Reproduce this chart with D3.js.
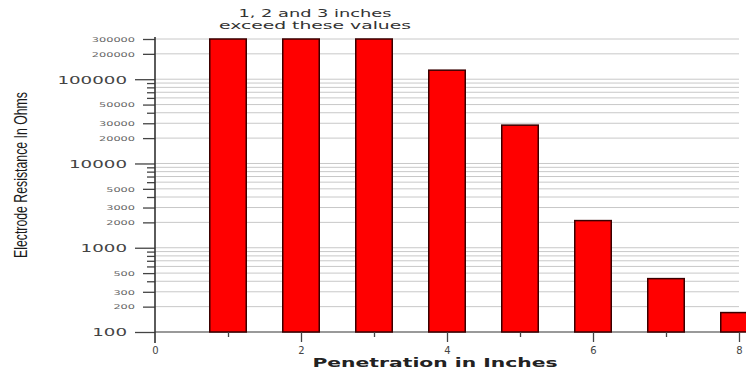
<!DOCTYPE html>
<html>
<head>
<meta charset="utf-8">
<script src="https://cdn.jsdelivr.net/npm/d3@7/dist/d3.min.js"></script>
<style>
  html, body { margin: 0; padding: 0; background: #fff; }
  svg { display: block; }
</style>
</head>
<body>
<svg id="chart" width="746" height="370"></svg>
<script>
// Penetration depth (inches) and measured electrode resistance (ohms)
const depths = [1, 2, 3, 4, 5, 6, 7, 8];
const resistance = [300000, 300000, 300000, 128000, 28500, 2100, 430, 170];

const xTicksLabeled = [0, 2, 4, 6, 8];
const xTicksMinor = [1, 3, 5, 7];
const yMajorTicks = [100, 1000, 10000, 100000];
const yLabeledMinor = [200, 300, 500, 2000, 3000, 5000, 20000, 30000, 50000, 200000, 300000];

const noteLines = ["1, 2 and 3 inches", "exceed these values"];
const xTitle = "Penetration in Inches";
const yTitle = "Electrode Resistance In Ohms";

const svg = d3.select("#chart");

const x = d3.scaleLinear().domain([0, 8]).range([155, 739]);
const y = d3.scaleLog().domain([100, 300000]).range([332, 39]);

// every 1..9 multiple inside the domain gets a gridline
const allMinor = [];
for (let d = 100; d <= 100000; d *= 10) {
  for (let m = 1; m <= 9; m++) {
    const v = d * m;
    if (v >= 100 && v <= 300000) allMinor.push(v);
  }
}
const yUnlabeled = allMinor.filter(v => !yMajorTicks.includes(v) && !yLabeledMinor.includes(v));

// gridlines
svg.append("g")
  .selectAll("line")
  .data(allMinor)
  .join("line")
  .attr("x1", x(0))
  .attr("x2", x(8))
  .attr("y1", d => y(d))
  .attr("y2", d => y(d))
  .attr("stroke", d => d === 100 ? "#777" : "#c8c8c8")
  .attr("stroke-width", d => d === 100 ? 1.3 : 1);

// bars
const barW = x(0.5) - x(0);
svg.append("g")
  .selectAll("rect")
  .data(depths)
  .join("rect")
  .attr("x", (d) => x(d) - barW / 2)
  .attr("y", (d, i) => y(resistance[i]))
  .attr("width", barW)
  .attr("height", (d, i) => y(100) - y(resistance[i]))
  .attr("fill", "#ff0000")
  .attr("stroke", "#3a0000")
  .attr("stroke-width", 1.5);

// y axis: long ticks at decades, medium ticks at 2/3/5, short unlabeled ticks
const axisColor = "#444";
function styleAxis(g) {
  g.selectAll(".domain").remove();
  g.selectAll(".tick line").attr("stroke", axisColor).attr("stroke-width", 1.3);
}

const gMajor = svg.append("g").attr("transform", `translate(${x(0)},0)`)
  .call(d3.axisLeft(y).tickValues(yMajorTicks).tickSize(20).tickPadding(8)
    .tickFormat(d3.format("d")));
styleAxis(gMajor);
gMajor.selectAll(".tick text")
  .attr("font-family", "DejaVu Sans, sans-serif")
  .attr("font-size", 11)
  .attr("fill", "#444")
  .attr("dy", "0.36em")
  .attr("textLength", d => String(d).length * 11.6)
  .attr("lengthAdjust", "spacingAndGlyphs");

const gLab = svg.append("g").attr("transform", `translate(${x(0)},0)`)
  .call(d3.axisLeft(y).tickValues(yLabeledMinor).tickSize(12).tickPadding(8)
    .tickFormat(d3.format("d")));
styleAxis(gLab);
gLab.selectAll(".tick text")
  .attr("font-family", "DejaVu Sans, sans-serif")
  .attr("font-size", 6.5)
  .attr("fill", "#666")
  .attr("dy", "0.36em")
  .attr("textLength", d => String(d).length * 7.2)
  .attr("lengthAdjust", "spacingAndGlyphs");

const gUn = svg.append("g").attr("transform", `translate(${x(0)},0)`)
  .call(d3.axisLeft(y).tickValues(yUnlabeled).tickSize(8).tickFormat(""));
styleAxis(gUn);

// vertical axis line
svg.append("line")
  .attr("x1", x(0)).attr("x2", x(0))
  .attr("y1", y(300000) - 2).attr("y2", y(100) + 11)
  .attr("stroke", "#333").attr("stroke-width", 1.6);

// x axis ticks below the baseline
const gx = svg.append("g").attr("transform", `translate(0,${y(100)})`)
  .call(d3.axisBottom(x).tickValues(xTicksLabeled).tickSize(10).tickPadding(5)
    .tickFormat(d3.format("d")));
gx.select(".domain").remove();
gx.selectAll(".tick line").attr("stroke", axisColor).attr("stroke-width", 1.3);
gx.selectAll(".tick text")
  .attr("font-family", "DejaVu Sans, sans-serif")
  .attr("font-size", 10)
  .attr("fill", "#444");
gx.selectAll(".tick").filter(d => d === 0).select("line").remove();

const gx2 = svg.append("g").attr("transform", `translate(0,${y(100)})`)
  .call(d3.axisBottom(x).tickValues(xTicksMinor).tickSize(5).tickFormat(""));
gx2.select(".domain").remove();
gx2.selectAll(".tick line").attr("stroke", axisColor).attr("stroke-width", 1.3);

// note above the clipped bars
svg.append("g")
  .selectAll("text")
  .data(noteLines)
  .join("text")
  .attr("x", 315)
  .attr("y", (d, i) => 17 + i * 12)
  .attr("text-anchor", "middle")
  .attr("font-family", "DejaVu Sans, sans-serif")
  .attr("font-size", 10.5)
  .attr("fill", "#333")
  .attr("textLength", (d, i) => i === 0 ? 153 : 192)
  .attr("lengthAdjust", "spacingAndGlyphs")
  .text(d => d);

// axis titles
svg.append("text")
  .attr("x", 435)
  .attr("y", 367)
  .attr("text-anchor", "middle")
  .attr("font-family", "DejaVu Sans, sans-serif")
  .attr("font-weight", "bold")
  .attr("font-size", 12.5)
  .attr("fill", "#222")
  .attr("textLength", 245)
  .attr("lengthAdjust", "spacingAndGlyphs")
  .text(xTitle);

svg.append("text")
  .attr("transform", "translate(27,175) rotate(-90)")
  .attr("text-anchor", "middle")
  .attr("font-family", "Liberation Sans Narrow, Liberation Sans, sans-serif")
  .attr("font-size", 18)
  .attr("fill", "#1a1a1a")
  .attr("textLength", 166)
  .attr("lengthAdjust", "spacingAndGlyphs")
  .text(yTitle);
</script>
</body>
</html>
